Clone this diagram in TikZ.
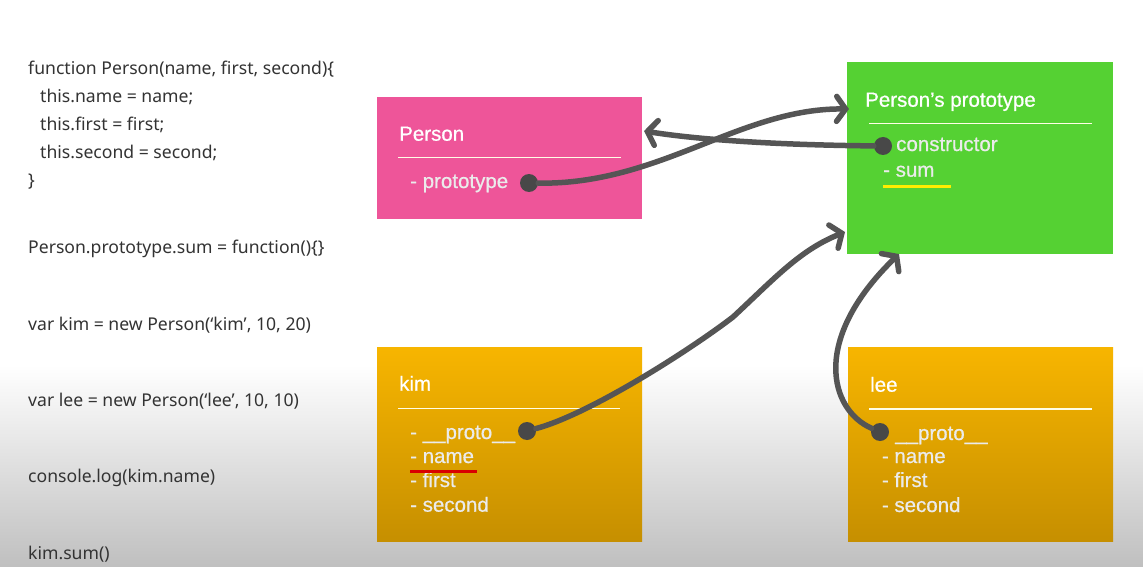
\documentclass[tikz,border=0pt]{standalone}
\usepackage{fontspec}
\setmainfont{Liberation Sans}
\newfontfamily\codefont{Noto Sans}
\newfontfamily\boxfont[FakeBold=0.7]{Liberation Sans}
\usetikzlibrary{calc,positioning,arrows.meta}

\definecolor{pinkbox}{HTML}{EE5599}
\definecolor{greenbox}{HTML}{55D133}
\definecolor{orangetop}{HTML}{F7B500}
\definecolor{orangebot}{HTML}{C68F00}
\definecolor{linkgray}{HTML}{555555}
\definecolor{codegray}{HTML}{333333}

\begin{document}
\begin{tikzpicture}[x=1pt,y=-1pt,inner sep=0pt,
  objbox/.style={rectangle,anchor=north west,minimum width=265pt},
  code/.style={anchor=base west,font=\codefont\fontsize{17.6}{20}\selectfont,text=codegray},
  title/.style={anchor=base west,font=\boxfont\fontsize{20.5}{24}\selectfont,text=white},
  item/.style={anchor=base west,font=\boxfont\fontsize{20.5}{24}\selectfont,text=white!92!black},
  rule/.style={draw=white!90!yellow,line width=1.3pt},
  dot/.style={circle,fill=linkgray!85!black,minimum size=18pt},
  link/.style={draw=linkgray,line width=5.5pt,line cap=round,-{Straight Barb[length=9pt,width=25pt,line cap=round]}}]
\useasboundingbox (0,0) rectangle (1143,567);
\fill[white] (0,0) rectangle (1143,567);
\shade[top color=white,bottom color=gray!50!white] (0,365) rectangle (1143,567);

% code
\node[code] (c1) at (28,74.3) {function Person(name, first, second)\{};
\node[code] (c2) at (40,102.7) {this.name = name;};
\node[code] (c3) at (40,130.7) {this.first = first;};
\node[code] (c4) at (40,159) {this.second = second;};
\node[code] (c5) at (28,186) {\}};
\node[code] (c6) at (28,253.3) {Person.prototype.sum = function()\{\}};
\node[code] (c7) at (28,330) {var kim = new Person(‘kim’, 10, 20)};
\node[code] (c8) at (28,406.7) {var lee = new Person(‘lee’, 10, 10)};
\node[code] (c9) at (28,482.7) {console.log(kim.name)};
\node[code] (c10) at (28,559.3) {kim.sum()};

% objects
\node[objbox,fill=pinkbox,minimum height=122pt] (person) at (377,97) {};
\node[objbox,fill=greenbox,minimum width=266pt,minimum height=192pt] (proto) at (847,62) {};
\node[objbox,top color=orangetop,bottom color=orangebot,minimum height=194pt] (kim) at (377,347.5) {};
\node[objbox,top color=orangetop,bottom color=orangebot,minimum height=194pt] (lee) at (848,347.5) {};

\node[title] (personT) at (399,140.7) {Person};
\draw[rule] (398,157.5) -- (621,157.5);
\node[item] (personP) at (410,188) {- prototype};

\node[title] (protoT) at (865,106.7) {Person’s prototype};
\draw[rule] (869,123.3) -- (1092,123.3);
\node[item] (protoC) at (896,151) {constructor};
\node[item] (protoS) at (883,176.7) {- sum};
\draw[yellow!95!orange,line width=3pt] (883,186) -- (951,186);

\node[title] (kimT) at (399,390.7) {kim};
\draw[rule] (398,408.3) -- (620,408.3);
\node[item] (kim1) at (410,439) {- \_\_proto\_\_};
\node[item] (kim2) at (410,463) {- name};
\node[item] (kim3) at (410,487) {- first};
\node[item] (kim4) at (410,511.7) {- second};
\draw[red!85!black,line width=3pt] (410,471) -- (477,471);

\node[title] (leeT) at (870,391.7) {lee};
\draw[rule] (869,409) -- (1092,409);
\node[item] (lee1) at (895,440) {\_\_proto\_\_};
\node[item] (lee2) at (881.7,463) {- name};
\node[item] (lee3) at (881.7,487) {- first};
\node[item] (lee4) at (881.7,512) {- second};

% links
\node[dot] (pd) at (529,183) {};
\node[dot] (cd) at (883,146) {};
\node[dot] (kd) at (527,431) {};
\node[dot] (ld) at (880,432) {};
\coordinate (protoIn) at (849,109);
\coordinate (personIn) at (644,131);
\coordinate (kimMid) at (733,317);
\coordinate (kimIn) at (845,232);
\coordinate (leeIn) at (899,254);

\draw[link] (pd) .. controls (660,185) and (740,108) .. (protoIn);
\draw[link] (cd) .. controls (780,145) and (700,140) .. (personIn);
\draw[link] (kd) .. controls (590,414) and (690,350) .. (kimMid) .. controls (775,278) and (800,250) .. (kimIn);
\draw[link] (ld) .. controls (830,410) and (810,340) .. (leeIn);

\end{tikzpicture}
\end{document}
